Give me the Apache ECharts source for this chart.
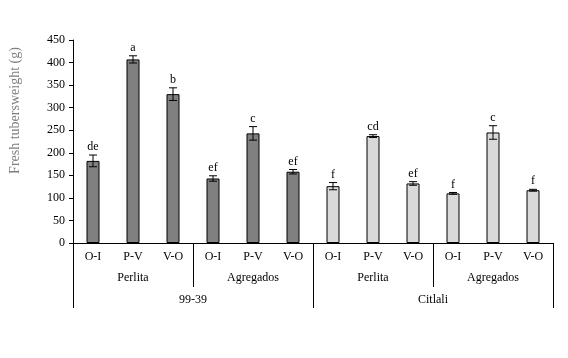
<!DOCTYPE html>
<html>
<head>
<meta charset="utf-8">
<script src="https://cdn.jsdelivr.net/npm/echarts@6/dist/echarts.min.js"></script>
<style>
  html, body { margin: 0; padding: 0; background: #fff; }
  #chart { width: 568px; height: 358px; }
</style>
</head>
<body>
<div id="chart"></div>
<script>
// 处理 (treatment) per bar
const treatments = ['O-I', 'P-V', 'V-O', 'O-I', 'P-V', 'V-O', 'O-I', 'P-V', 'V-O', 'O-I', 'P-V', 'V-O']
const substrates = ['Perlita', 'Agregados', 'Perlita', 'Agregados']
const varieties = ['99-39', 'Citlali']

const weights = [182, 407, 330, 143, 243, 158, 126, 237, 132, 110, 245, 117]
const errors = [13, 8, 14, 6, 15, 5, 8, 3, 4, 2, 15, 2]
const letters = ['de', 'a', 'b', 'ef', 'c', 'ef', 'f', 'cd', 'ef', 'f', 'c', 'f']

const yTicks = { min: 0, max: 450, interval: 50 }

const font = 'Liberation Serif'
const chart = echarts.init(document.getElementById('chart'))

// 误差线 + 字母标注
function renderError(params, api) {
  const idx = api.value(0)
  const v = api.value(1)
  const e = api.value(2)
  const top = api.coord([idx, v + e])
  const bot = api.coord([idx, v - e])
  const cap = 4
  return {
    type: 'group',
    children: [
      { type: 'line', shape: { x1: top[0], y1: top[1], x2: bot[0], y2: bot[1] }, style: { stroke: '#000', lineWidth: 1 } },
      { type: 'line', shape: { x1: top[0] - cap, y1: top[1], x2: top[0] + cap, y2: top[1] }, style: { stroke: '#000', lineWidth: 1 } },
      { type: 'line', shape: { x1: bot[0] - cap, y1: bot[1], x2: bot[0] + cap, y2: bot[1] }, style: { stroke: '#000', lineWidth: 1 } },
      {
        type: 'text',
        x: top[0], y: top[1] - 2,
        style: { text: letters[idx], fontFamily: font, fontSize: 12, fill: '#000', align: 'center', verticalAlign: 'bottom' }
      }
    ]
  }
}

const option = {
  animation: false,
  grid: { left: 72, right: 15, top: 40, bottom: 115, containLabel: false },
  xAxis: [
    {
      type: 'category',
      data: treatments,
      position: 'bottom',
      axisLine: { lineStyle: { color: '#000', width: 1 } },
      axisTick: { show: false },
      axisLabel: { margin: 8, fontFamily: font, fontSize: 12, color: '#000', interval: 0 }
    },
    {
      type: 'category',
      data: substrates,
      position: 'bottom',
      axisLine: { show: false },
      axisTick: { show: true, length: 44, lineStyle: { color: '#000' } },
      axisLabel: { margin: 29, fontFamily: font, fontSize: 12, color: '#000', interval: 0 }
    },
    {
      type: 'category',
      data: varieties,
      position: 'bottom',
      axisLine: { show: false },
      axisTick: { show: true, length: 65, lineStyle: { color: '#000' } },
      axisLabel: { margin: 51, fontFamily: font, fontSize: 12, color: '#000', interval: 0 }
    }
  ],
  yAxis: {
    type: 'value',
    min: yTicks.min,
    max: yTicks.max,
    interval: yTicks.interval,
    name: 'Fresh tubersweight (g)',
    nameLocation: 'middle',
    nameGap: 51,
    nameTextStyle: { fontFamily: font, fontSize: 14, color: '#7f7f7f', padding: [0, 0, 0, 62] },
    axisLine: { show: true, lineStyle: { color: '#000', width: 1 } },
    axisTick: { show: true, length: 4, lineStyle: { color: '#000' } },
    axisLabel: { margin: 8, fontFamily: font, fontSize: 12, color: '#000' },
    splitLine: { show: false }
  },
  series: [
    {
      type: 'bar',
      xAxisIndex: 0,
      data: weights,
      barWidth: 13,
      itemStyle: {
        color: (p) => (p.dataIndex < 6 ? '#808080' : '#d9d9d9'),
        borderColor: '#000',
        borderWidth: 1
      }
    },
    {
      type: 'custom',
      xAxisIndex: 0,
      renderItem: renderError,
      data: weights.map((v, i) => [i, v, errors[i]]),
      z: 10
    }
  ]
}

chart.setOption(option)
</script>
</body>
</html>
